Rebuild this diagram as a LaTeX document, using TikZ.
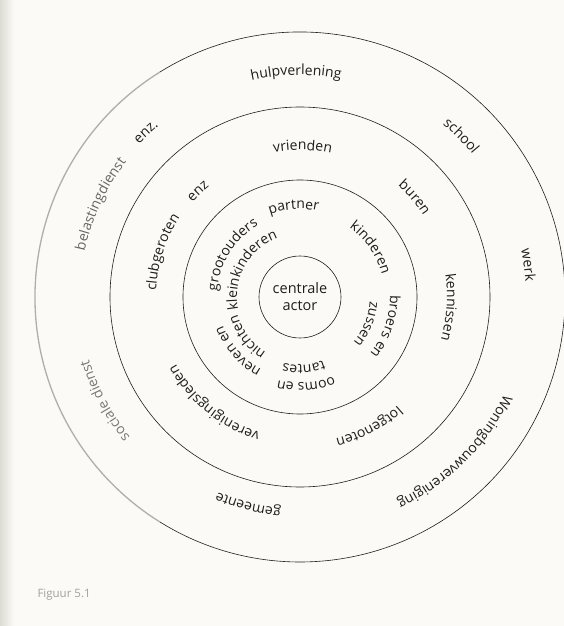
\documentclass[tikz,border=0pt]{standalone}
\usepackage{fontspec}
\setmainfont{Open Sans}
\usepackage{tikz}
\usetikzlibrary{decorations.text}

\definecolor{paper}{RGB}{251,250,246}
\definecolor{gutter}{RGB}{222,219,211}
\definecolor{ink}{RGB}{30,30,30}
\definecolor{faded}{RGB}{120,120,120}

\newcommand{\ringfont}{\fontsize{14}{16}\selectfont}
% baseline radius, middle angle, text (written clockwise, tops outward)
\newcommand{\ringlabel}[4][ink]{%
  \path[decorate,decoration={text along path,text align=center,text color=#1,
    text={|\ringfont|#4}}] (#3+85:#2) arc[start angle=#3+85,end angle=#3-85,radius=#2];}

\begin{document}
\begin{tikzpicture}[x=1pt,y=1pt,line cap=round,line join=round,
  ring/.style={draw=ink,line width=0.6pt},
  actorbox/.style={circle,ring,minimum size=82pt,inner sep=0pt,align=center,
    font=\fontsize{14.5}{17}\selectfont,text=ink}]
        \useasboundingbox (-300,-329) rectangle (264,297);
        \fill[paper] (-300,-329) rectangle (264,297);
        \fill[left color=gutter,right color=paper] (-300,-329) rectangle (-286,297);
        % rings
        \node[actorbox] (actor) at (0,0) {centrale\\actor};
        \draw[ring] (actor.center) circle[radius=117];
        \draw[ring] (actor.center) circle[radius=190];
        \draw[ring] (actor.center) ++(122:265) arc[start angle=122,end angle=-122,radius=265];
        \draw[draw=faded!60,line width=1.3pt] (actor.center) ++(122:265) arc[start angle=122,end angle=238,radius=265];
        % binnenste ring
        \ringlabel{88}{94}{partner}
        \ringlabel{85}{35}{kinderen}
        \ringlabel{90}{-19}{broers en}
        \ringlabel{70}{-22}{zussen}
        \ringlabel{86}{-86}{ooms en}
        \ringlabel{68}{-87}{tantes}
        \ringlabel{82}{-139}{neven en}
        \ringlabel{65}{-143}{nichten}
        \ringlabel{83}{148}{grootouders}
        \ringlabel{63}{151}{kleinkinderen}
        % middelste ring
        \ringlabel{147}{89}{vrienden}
        \ringlabel{148}{41}{buren}
        \ringlabel{147}{-4}{kennissen}
        \ringlabel{146}{-62}{lotgenoten}
        \ringlabel{141}{-129}{verenigingsleden}
        \ringlabel{144}{162}{clubgeroten}
        \ringlabel{143}{134}{enz}
        % buitenste ring
        \ringlabel{222}{91}{hulpverlening}
        \ringlabel{224}{45}{school}
        \ringlabel{226}{8}{werk}
        \ringlabel{226}{-45}{Woningbouwvereniging}
        \ringlabel{212}{-104}{gemeente}
        \ringlabel[faded]{220}{-152}{sociale dienst}
        \ringlabel[faded!80!ink]{220}{155}{belastingdienst}
        \ringlabel{222}{133}{enz.}
        \node[anchor=west,text=faded!70,font=\fontsize{11.5}{13}\selectfont] (caption) at (-266,-298) {Figuur 5.1};
\end{tikzpicture}
\end{document}
